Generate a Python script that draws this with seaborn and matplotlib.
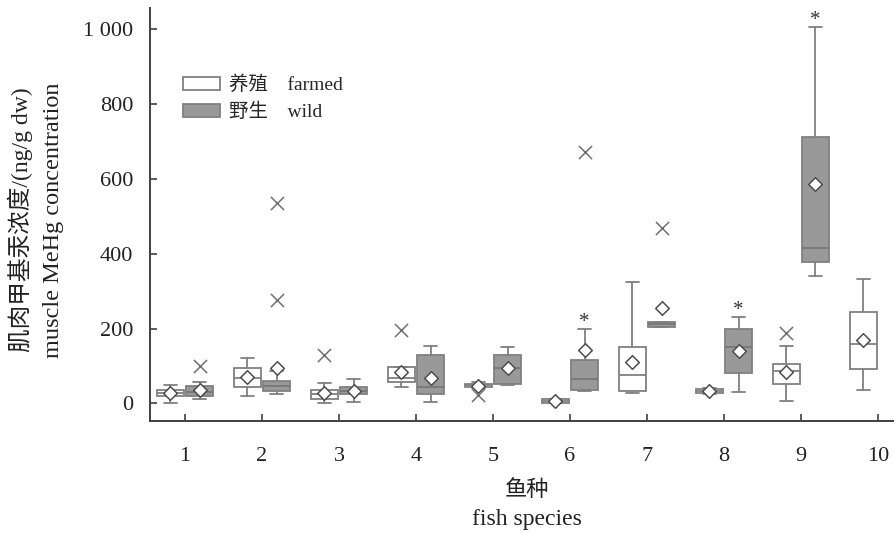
import matplotlib
matplotlib.use("Agg")
import matplotlib.pyplot as plt
import matplotlib.ticker as mticker
from matplotlib.patches import Patch
import pandas as pd
import seaborn as sns

# Fish species and the two sample sources
species = [1, 2, 3, 4, 5, 6, 7, 8, 9, 10]
wild_species = [1, 2, 3, 4, 5, 6, 7, 8, 9]

# Box statistics of muscle MeHg (ng/g dw), farmed fish
farmed_low = [2, 20, 1, 43, 42, 1, 29, 26, 7, 35]
farmed_q1 = [19, 43, 11, 56, 43, 2, 33, 28, 52, 93]
farmed_med = [27, 69, 25, 67, 48, 6, 76, 34, 87, 158]
farmed_q3 = [37, 95, 37, 96, 52, 11, 150, 39, 105, 245]
farmed_high = [50, 122, 55, 98, 56, 12, 325, 41, 153, 332]
farmed_mean = [28, 70, 28, 84, 46, 6, 110, 34, 84, 169]
farmed_outliers = [[], [], [129], [196], [22], [], [], [], [189], []]

# Box statistics of muscle MeHg (ng/g dw), wild fish
wild_low = [12, 24, 5, 3, 48, 34, 203, 31, 341]
wild_q1 = [20, 33, 24, 24, 53, 37, 203, 82, 377]
wild_med = [30, 46, 34, 44, 95, 65, 212, 150, 414]
wild_q3 = [46, 61, 44, 128, 129, 116, 218, 199, 711]
wild_high = [58, 87, 64, 154, 150, 199, 218, 232, 1006]
wild_mean = [37, 95, 34, 69, 95, 142, 256, 140, 587]
wild_outliers = [[100], [276, 535], [], [], [], [671], [469], [], []]

# Species where wild and farmed differ significantly
signif_species = [6, 8, 9]

y_ticks = [0, 200, 400, 600, 800, 1000]

sns.set_theme(style="ticks")
plt.rcParams["font.family"] = ["Liberation Serif", "Noto Sans CJK SC"]

EDGE = "#808080"
WILD_FILL = "#999999"
AXIS = "#404040"
OFFSET = 0.19
WIDTH = 0.35


def box_stats(low, q1, med, q3, high, mean):
    return [dict(whislo=a, q1=b, med=c, q3=d, whishi=e, mean=m, fliers=[])
            for a, b, c, d, e, m in zip(low, q1, med, q3, high, mean)]


fig = plt.figure(figsize=(8.94, 5.33), dpi=100)
ax = fig.add_axes([150 / 894, 1 - 421 / 533, 744 / 894, 413 / 533])

farmed_pos = [s - OFFSET for s in species]
wild_pos = [s + OFFSET for s in wild_species]

line = dict(color=EDGE, linewidth=1.3)
ax.bxp(box_stats(farmed_low, farmed_q1, farmed_med, farmed_q3, farmed_high, farmed_mean),
       positions=farmed_pos, widths=WIDTH, capwidths=0.17, patch_artist=True,
       showfliers=False, manage_ticks=False,
       boxprops=dict(facecolor="white", edgecolor=EDGE, linewidth=1.3),
       whiskerprops=line, capprops=line, medianprops=line)
ax.bxp(box_stats(wild_low, wild_q1, wild_med, wild_q3, wild_high, wild_mean),
       positions=wild_pos, widths=WIDTH, capwidths=0.17, patch_artist=True,
       showfliers=False, manage_ticks=False,
       boxprops=dict(facecolor=WILD_FILL, edgecolor=EDGE, linewidth=1.3),
       whiskerprops=line, capprops=line,
       medianprops=dict(color="#777777", linewidth=1.3))

# Means as open diamonds
means = pd.DataFrame({"pos": farmed_pos + wild_pos,
                      "value": farmed_mean + wild_mean})
sns.scatterplot(data=means, x="pos", y="value", marker="D", s=48,
                color="white", edgecolor="#4d4d4d", linewidth=1.1,
                zorder=5, legend=False, ax=ax)

# Outliers as crosses
out_pos, out_val = [], []
for p, vals in zip(farmed_pos + wild_pos, farmed_outliers + wild_outliers):
    for v in vals:
        out_pos.append(p)
        out_val.append(v)
outliers = pd.DataFrame({"pos": out_pos, "value": out_val})
sns.scatterplot(data=outliers, x="pos", y="value", marker="x", s=90,
                color="#707070", linewidth=1.1, zorder=5, legend=False, ax=ax)

# Significance marks above the wild boxes
for s in signif_species:
    i = wild_species.index(s)
    ax.text(wild_pos[i], wild_high[i] + 17, "*", ha="center", va="center",
            fontsize=15, color="#333333")

ax.set_xlim(0.545, 10.21)
ax.set_ylim(-47, 1056)
ax.set_xticks(species)
ax.set_xticklabels([str(s) for s in species])
ax.set_yticks(y_ticks)
ax.yaxis.set_major_formatter(mticker.FuncFormatter(lambda v, _: f"{int(v):,}".replace(",", " ")))
ax.set_xlabel("")
ax.set_ylabel("")

sns.despine(ax=ax)
for side in ("left", "bottom"):
    ax.spines[side].set_color(AXIS)
    ax.spines[side].set_linewidth(1.4)
ax.tick_params(axis="both", direction="in", length=5, width=1.2, color=AXIS,
               labelsize=16, labelcolor="#222222")
ax.tick_params(axis="y", pad=12)
ax.tick_params(axis="x", pad=19)

handles = [Patch(facecolor="white", edgecolor=EDGE, linewidth=1.3),
           Patch(facecolor=WILD_FILL, edgecolor=EDGE, linewidth=1.3)]
ax.legend(handles, ["养殖    farmed", "野生    wild"], loc="upper left",
          bbox_to_anchor=(0.044, 0.836), frameon=False, fontsize=14,
          handlelength=1.9, handleheight=0.65, handletextpad=0.5,
          labelspacing=0.45, borderpad=0, borderaxespad=0)

fig.text(20 / 894, 1 - 220 / 533, "肌肉甲基汞浓度/(ng/g dw)", rotation=90,
         ha="center", va="center", fontsize=17, color="#222222")
fig.text(54 / 894, 1 - 220 / 533, "muscle MeHg concentration", rotation=90,
         ha="center", va="center", fontsize=17.5, color="#222222")
fig.text(527 / 894, 1 - 491 / 533, "鱼种", ha="center", va="center",
         fontsize=16, color="#222222")
fig.text(527 / 894, 1 - 519 / 533, "fish species", ha="center", va="center",
         fontsize=17, color="#222222")

fig.savefig("out.png", dpi=100)
